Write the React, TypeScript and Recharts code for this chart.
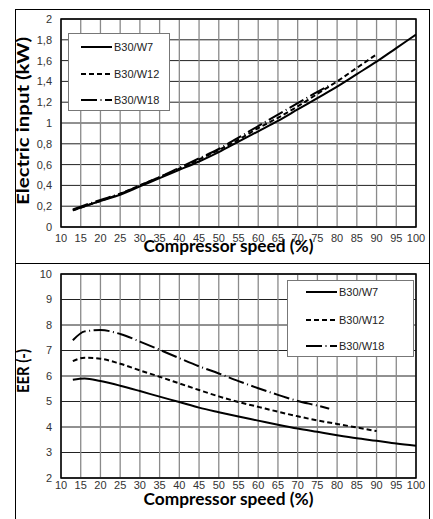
import React from "react";
import {
  CartesianGrid,
  Label,
  Legend,
  Line,
  LineChart,
  ReferenceArea,
  XAxis,
  YAxis,
} from "recharts";

// tick values
const speedTicks = [10, 15, 20, 25, 30, 35, 40, 45, 50, 55, 60, 65, 70, 75, 80, 85, 90, 95, 100];
const inputTicks = [0, 0.2, 0.4, 0.6, 0.8, 1, 1.2, 1.4, 1.6, 1.8, 2];
const eerTicks = [2, 3, 4, 5, 6, 7, 8, 9, 10];

const seriesNames = ["B30/W7", "B30/W12", "B30/W18"];

// compressor speed (%) for each series
const speedsW7 = [13, 16, 20, 25, 30, 35, 40, 45, 50, 55, 60, 65, 70, 75, 80, 85, 90, 95, 100];
const speedsW12 = [13, 16, 20, 25, 30, 35, 40, 45, 50, 55, 60, 65, 70, 75, 80, 85, 90];
const speedsW18 = [13, 16, 20, 25, 30, 35, 40, 45, 50, 55, 60, 65, 70, 75, 78];

// electric input (kW)
const inputW7 = [0.16, 0.2, 0.25, 0.31, 0.39, 0.47, 0.55, 0.63, 0.72, 0.82, 0.92, 1.02, 1.13, 1.24, 1.35, 1.47, 1.59, 1.72, 1.85];
const inputW12 = [0.16, 0.2, 0.25, 0.32, 0.4, 0.48, 0.56, 0.65, 0.74, 0.84, 0.95, 1.05, 1.16, 1.28, 1.4, 1.53, 1.66];
const inputW18 = [0.17, 0.21, 0.26, 0.32, 0.4, 0.48, 0.57, 0.66, 0.75, 0.86, 0.97, 1.08, 1.19, 1.3, 1.36];

// EER (-)
const eerW7 = [5.85, 5.9, 5.8, 5.62, 5.41, 5.19, 4.98, 4.76, 4.58, 4.41, 4.25, 4.09, 3.94, 3.81, 3.68, 3.56, 3.46, 3.35, 3.26];
const eerW12 = [6.58, 6.72, 6.68, 6.48, 6.22, 5.97, 5.71, 5.45, 5.2, 4.98, 4.79, 4.6, 4.42, 4.26, 4.12, 3.98, 3.84];
const eerW18 = [7.4, 7.75, 7.8, 7.65, 7.35, 7.03, 6.7, 6.38, 6.1, 5.8, 5.52, 5.26, 5.02, 4.84, 4.72];

const dashes = [undefined, "5 3", "16 3.5 1 3.5"];

const toPoints = (xs: number[], ys: number[]) => xs.map((x, i) => ({ x, y: ys[i] }));

const commaFmt = (v: number) => String(Number(v.toFixed(1))).replace(".", ",");

const tickFont = { fontFamily: "'Liberation Sans', Arial, sans-serif", fontSize: 11, fill: "#333" };
const titleFont = "Lato, 'Open Sans', sans-serif";

function LegendBox({ w, h, lineX, textX, rows }: { w: number; h: number; lineX: number; textX: number; rows: number[] }) {
  return (
    <div
      style={{
        position: "relative",
        width: w,
        height: h,
        boxSizing: "border-box",
        border: "1px solid #777",
        background: "#fff",
      }}
    >
      {seriesNames.map((name, i) => (
        <div key={name} style={{ position: "absolute", left: 0, top: rows[i] - 7, height: 14, width: w }}>
          <svg width={textX} height={14} style={{ position: "absolute", left: 0, top: 0 }}>
            <line x1={lineX} x2={textX - 2} y1={7} y2={7} stroke="#000" strokeWidth={2} strokeDasharray={dashes[i]} />
          </svg>
          <span style={{ position: "absolute", left: textX, top: 0, lineHeight: "14px", fontFamily: tickFont.fontFamily, fontSize: 11, color: "#222" }}>
            {name}
          </span>
        </div>
      ))}
    </div>
  );
}

function XTitle(props: any) {
  const vb = props.viewBox;
  return (
    <text
      x={vb.x + vb.width / 2 - 10}
      y={vb.y + props.base}
      textAnchor="middle"
      fontFamily={titleFont}
      fontWeight={700}
      fontSize={17}
      fill="#000"
      textLength={170}
      lengthAdjust="spacingAndGlyphs"
    >
      Compressor speed (%)
    </text>
  );
}

function YTitle(props: any) {
  const vb = props.viewBox;
  const cx = 22;
  const cy = vb.y + vb.height / 2 + props.shift;
  return (
    <text
      x={cx}
      y={cy}
      transform={`rotate(-90, ${cx}, ${cy})`}
      textAnchor="middle"
      dominantBaseline="central"
      fontFamily={titleFont}
      fontWeight={700}
      fontSize={17}
      fill="#000"
      textLength={props.len}
      lengthAdjust="spacingAndGlyphs"
    >
      {props.text}
    </text>
  );
}

function Panel({
  series,
  ticks,
  domain,
  fmt,
  margin,
  tickGap,
  titleBase,
  yTitle,
  yShift,
  yLen,
  legend,
}: any) {
  return (
    <LineChart width={433} height={margin.h} margin={{ top: margin.top, right: 17, left: 0, bottom: margin.bottom }}>
      <CartesianGrid vertical={false} stroke="#222" strokeWidth={1} horizontalValues={ticks} />
      <CartesianGrid horizontal={false} stroke="#8a8a8a" strokeWidth={1.3} verticalValues={speedTicks} />
      <XAxis
        type="number"
        dataKey="x"
        domain={[10, 100]}
        ticks={speedTicks}
        interval={0}
        axisLine={false}
        tickLine={false}
        tickSize={0}
        tickMargin={tickGap}
        height={37}
        tick={tickFont}
        allowDataOverflow
      >
        <Label content={(p: any) => <XTitle {...p} base={titleBase} />} />
      </XAxis>
      <YAxis
        type="number"
        domain={domain}
        ticks={ticks}
        interval={0}
        axisLine={false}
        tickLine={false}
        tickSize={0}
        tickMargin={9}
        width={61}
        tick={tickFont}
        tickFormatter={fmt}
        allowDataOverflow
      >
        <Label content={(p: any) => <YTitle {...p} text={yTitle} shift={yShift} len={yLen} />} />
      </YAxis>
      <ReferenceArea x1={10} x2={100} y1={domain[0]} y2={domain[1]} fill="none" stroke="#000" strokeWidth={1.5} ifOverflow="visible" />
      <Legend
        layout="vertical"
        align="center"
        verticalAlign="middle"
        wrapperStyle={{ left: legend.left, top: legend.top, width: legend.w, height: legend.h }}
        content={() => <LegendBox {...legend} />}
      />
      {series.map((pts: any, i: number) => (
        <Line
          key={seriesNames[i]}
          name={seriesNames[i]}
          data={pts}
          dataKey="y"
          type="monotone"
          stroke="#000"
          strokeWidth={2}
          strokeDasharray={dashes[i]}
          dot={false}
          activeDot={false}
          isAnimationActive={false}
        />
      ))}
    </LineChart>
  );
}

export default function App() {
  const inputSeries = [toPoints(speedsW7, inputW7), toPoints(speedsW12, inputW12), toPoints(speedsW18, inputW18)];
  const eerSeries = [toPoints(speedsW7, eerW7), toPoints(speedsW12, eerW12), toPoints(speedsW18, eerW18)];
  return (
    <div style={{ position: "absolute", left: 0, top: 0, width: 433, height: 519, background: "#fff", overflow: "hidden" }}>
      <div style={{ position: "absolute", left: 15, top: 9, width: 415, height: 255, border: "1px solid #000", boxSizing: "border-box" }} />
      <div style={{ position: "absolute", left: 15, top: 263, width: 415, height: 300, border: "1px solid #000", boxSizing: "border-box" }} />
      <div style={{ position: "absolute", left: 0, top: 0 }}>
        <Panel
          series={inputSeries}
          ticks={inputTicks}
          domain={[0, 2]}
          fmt={commaFmt}
          margin={{ h: 264, top: 19, bottom: 0 }}
          tickGap={7}
          titleBase={25}
          yTitle="Electric input (kW)"
          yShift={-2}
          yLen={168}
          legend={{ left: 68, top: 33, w: 102, h: 78, lineX: 12, textX: 45, rows: [13, 40, 66] }}
        />
      </div>
      <div style={{ position: "absolute", left: 0, top: 264 }}>
        <Panel
          series={eerSeries}
          ticks={eerTicks}
          domain={[2, 10]}
          fmt={(v: number) => String(v)}
          margin={{ h: 255, top: 10, bottom: 4 }}
          tickGap={3}
          titleBase={27}
          yTitle="EER (-)"
          yShift={-5}
          yLen={44}
          legend={{ left: 287, top: 16, w: 127, h: 77, lineX: 18, textX: 51, rows: [11, 39, 65] }}
        />
      </div>
    </div>
  );
}
